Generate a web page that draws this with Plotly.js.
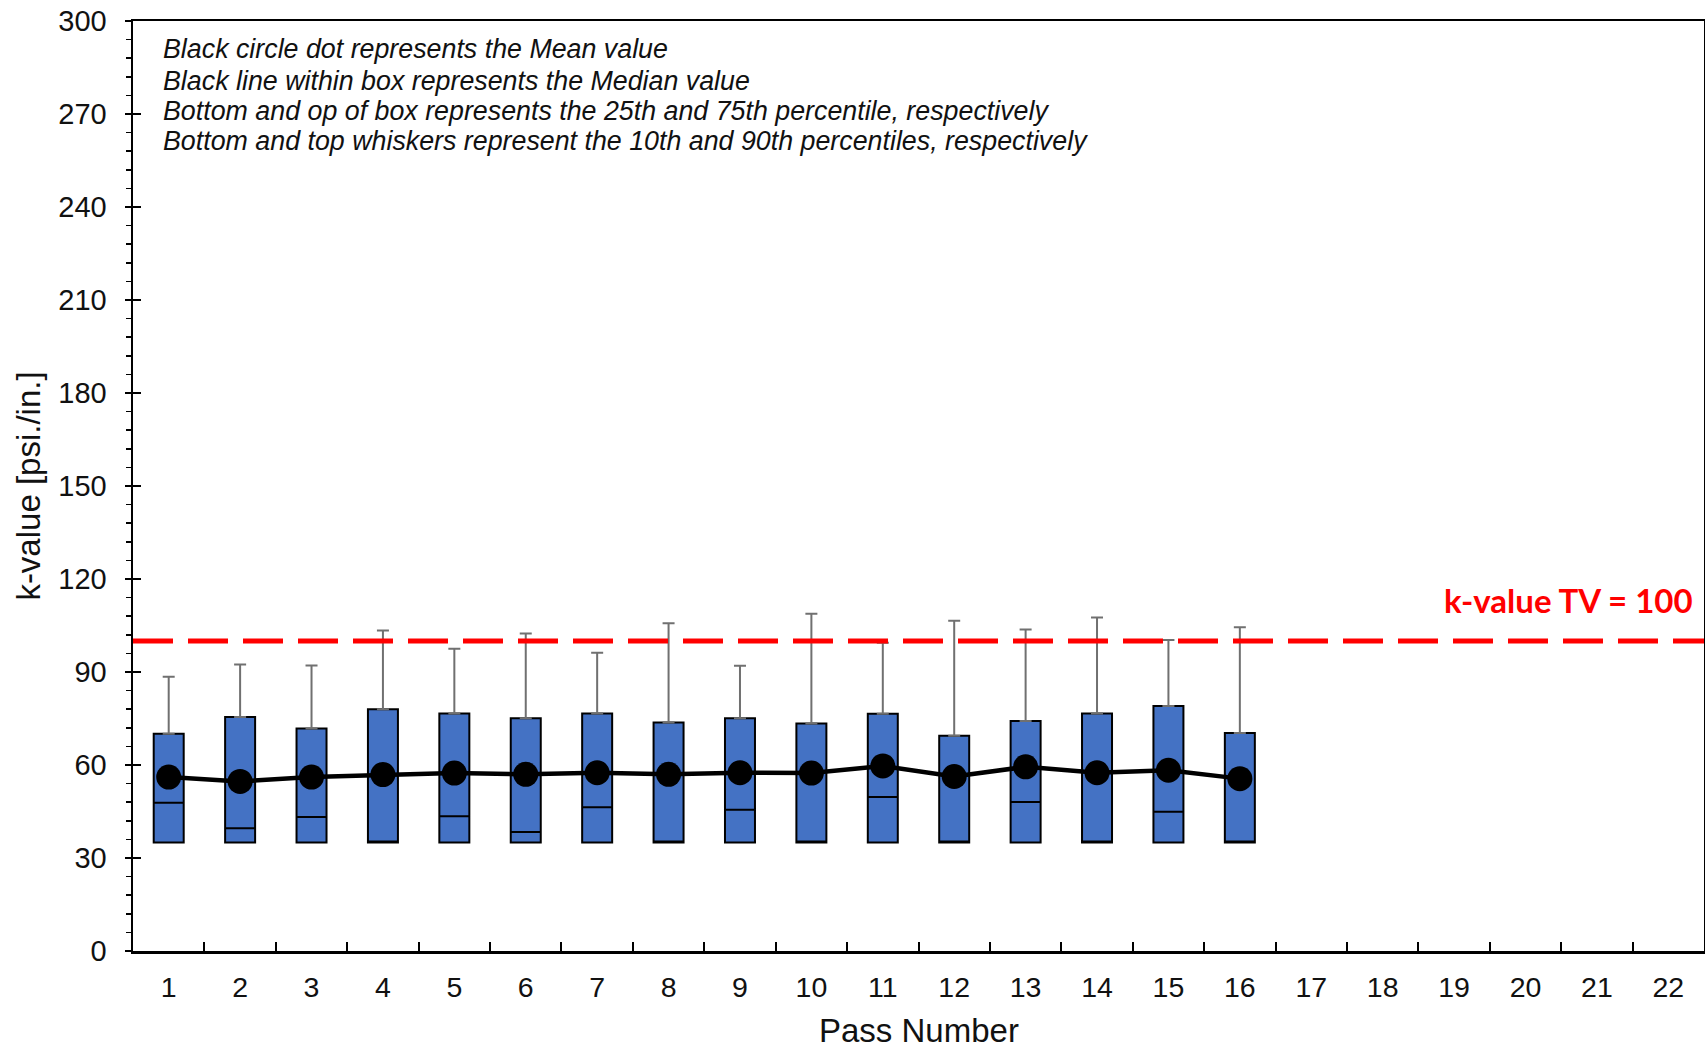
<!DOCTYPE html>
<html>
<head>
<meta charset="utf-8">
<script src="https://cdn.plot.ly/plotly-3.0.1.min.js"></script>
<style>html,body{margin:0;padding:0;background:#fff;}#chart{width:1705px;height:1048px;}</style>
</head>
<body>
<div id="chart"></div>
<script>
// Categories (pass numbers shown on the axis)
const allPasses = ['1','2','3','4','5','6','7','8','9','10','11','12','13','14','15','16','17','18','19','20','21','22'];
const boxPasses = ['1','2','3','4','5','6','7','8','9','10','11','12','13','14','15','16'];
// Percentiles / statistics
const p10    = [35, 35, 35, 35, 35, 35, 35, 35, 35, 35, 35, 35, 35, 35, 35, 35];
const q1     = [35, 35, 35, 35, 35, 35, 35, 35, 35, 35, 35, 35, 35, 35, 35, 35];
const median = [47.8, 39.6, 43.2, 35, 43.5, 38.4, 46.4, 35, 45.6, 35, 49.7, 35, 48.1, 35, 44.9, 35];
const q3     = [70.1, 75.5, 71.8, 78.0, 76.6, 75.1, 76.6, 73.7, 75.1, 73.4, 76.5, 69.4, 74.2, 76.6, 79.0, 70.3];
const p90    = [88.5, 92.4, 92.1, 103.4, 97.5, 102.4, 96.2, 105.7, 92.0, 108.8, 99.4, 106.5, 103.7, 107.6, 100.3, 104.4];
const meanVals = [56.1, 54.7, 56.1, 56.9, 57.4, 57.0, 57.5, 57.0, 57.5, 57.4, 59.7, 56.3, 59.4, 57.5, 58.3, 55.6];
const tvValue = 100;
const yTickVals = [0, 30, 60, 90, 120, 150, 180, 210, 240, 270, 300];
const xTitle = 'Pass Number';
const yTitle = 'k-value [psi./in.]';
const noteLines = [
  'Black circle dot represents the Mean value',
  'Black line within box represents the Median value',
  'Bottom and op of box represents the 25th and 75th percentile, respectively',
  'Bottom and top whiskers represent the 10th and 90th percentiles, respectively'
];

const FONT = 'Liberation Sans, Arial, sans-serif';

const whiskers = {
  type: 'scatter', mode: 'markers', x: boxPasses, y: q3,
  marker: {size: 1, color: 'rgba(0,0,0,0)'},
  error_y: {type: 'data', symmetric: false,
    array: p90.map((v, i) => v - q3[i]),
    arrayminus: q3.map(() => 0),
    color: '#707070', thickness: 2, width: 6},
  showlegend: false, hoverinfo: 'skip'
};

const boxes = {
  type: 'box', x: boxPasses, q1: q1, median: median, q3: q3,
  lowerfence: p10, upperfence: q3,
  fillcolor: '#4472C4', line: {color: '#000', width: 2},
  width: 0.42, boxpoints: false, showlegend: false, hoverinfo: 'skip'
};

const meanTrace = {
  type: 'scatter', mode: 'lines+markers', x: boxPasses, y: meanVals,
  line: {color: '#000', width: 4.5},
  marker: {color: '#000', size: 25},
  showlegend: false, hoverinfo: 'skip', cliponaxis: false
};

const annotations = noteLines.map((t, i) => ({
  text: t, xref: 'paper', yref: 'paper',
  x: 0.0178, y: [0.9699, 0.936, 0.9032, 0.8705][i],
  xanchor: 'left', yanchor: 'middle', showarrow: false,
  font: {family: FONT, size: 26.8, color: '#111', style: 'italic'}
}));
annotations.push({
  text: '<b>k-value TV = ' + tvValue + '</b>', xref: 'paper', yref: 'y',
  x: 0.9943, y: 113.2, xanchor: 'right', yanchor: 'middle', showarrow: false,
  font: {family: 'Lato, sans-serif', size: 33, color: '#FF0000'}
});
annotations.push({
  text: xTitle, xref: 'paper', yref: 'paper', x: 0.5, y: -0.085,
  xanchor: 'center', yanchor: 'middle', showarrow: false, borderpad: 0,
  font: {family: FONT, size: 33, color: '#111'}
});

const layout = {
  width: 1705, height: 1048,
  margin: {l: 133, r: 1, t: 21, b: 97},
  paper_bgcolor: '#fff', plot_bgcolor: '#fff',
  font: {family: FONT, color: '#111'},
  showlegend: false,
  xaxis: {
    type: 'category', categoryorder: 'array', categoryarray: allPasses,
    tickvals: allPasses, ticktext: allPasses,
    range: [-0.5, 21.5], tickson: 'boundaries',
    ticks: 'inside', ticklen: 9, tickwidth: 2, tickcolor: '#000',
    showgrid: false, zeroline: false,
    showline: true, linecolor: '#000', linewidth: 2.5, mirror: true,
    tickfont: {family: FONT, size: 28.5, color: '#111'},
    ticklabelstandoff: 9
  },
  yaxis: {
    range: [0, 300], tickvals: yTickVals, ticktext: yTickVals.map(String),
    ticks: 'outside', ticklen: 6, tickwidth: 2, tickcolor: '#000',
    minor: {dtick: 6, ticks: 'outside', ticklen: 5, tickwidth: 1.5, tickcolor: '#000', showgrid: false},
    showgrid: false, zeroline: false,
    showline: true, linecolor: '#000', linewidth: 2.5, mirror: true,
    tickfont: {family: FONT, size: 29, color: '#111'},
    ticklabelstandoff: 12,
    title: {text: yTitle, font: {family: FONT, size: 33, color: '#111'}, standoff: 8}
  },
  yaxis2: {
    overlaying: 'y', side: 'left', range: [0, 300], tickvals: yTickVals,
    ticks: 'inside', ticklen: 8, tickwidth: 2, tickcolor: '#000',
    showticklabels: false, showgrid: false, zeroline: false, showline: false
  },
  shapes: [{
    type: 'line', xref: 'paper', yref: 'y', x0: 0, x1: 1, y0: tvValue, y1: tvValue,
    line: {color: '#FF0000', width: 5, dash: '40px,15px'}
  }],
  annotations: annotations
};

const dummy = {type: 'scatter', x: [null], y: [null], yaxis: 'y2', showlegend: false, hoverinfo: 'skip'};

Plotly.newPlot('chart', [whiskers, boxes, meanTrace, dummy], layout, {staticPlot: true});
</script>
</body>
</html>
